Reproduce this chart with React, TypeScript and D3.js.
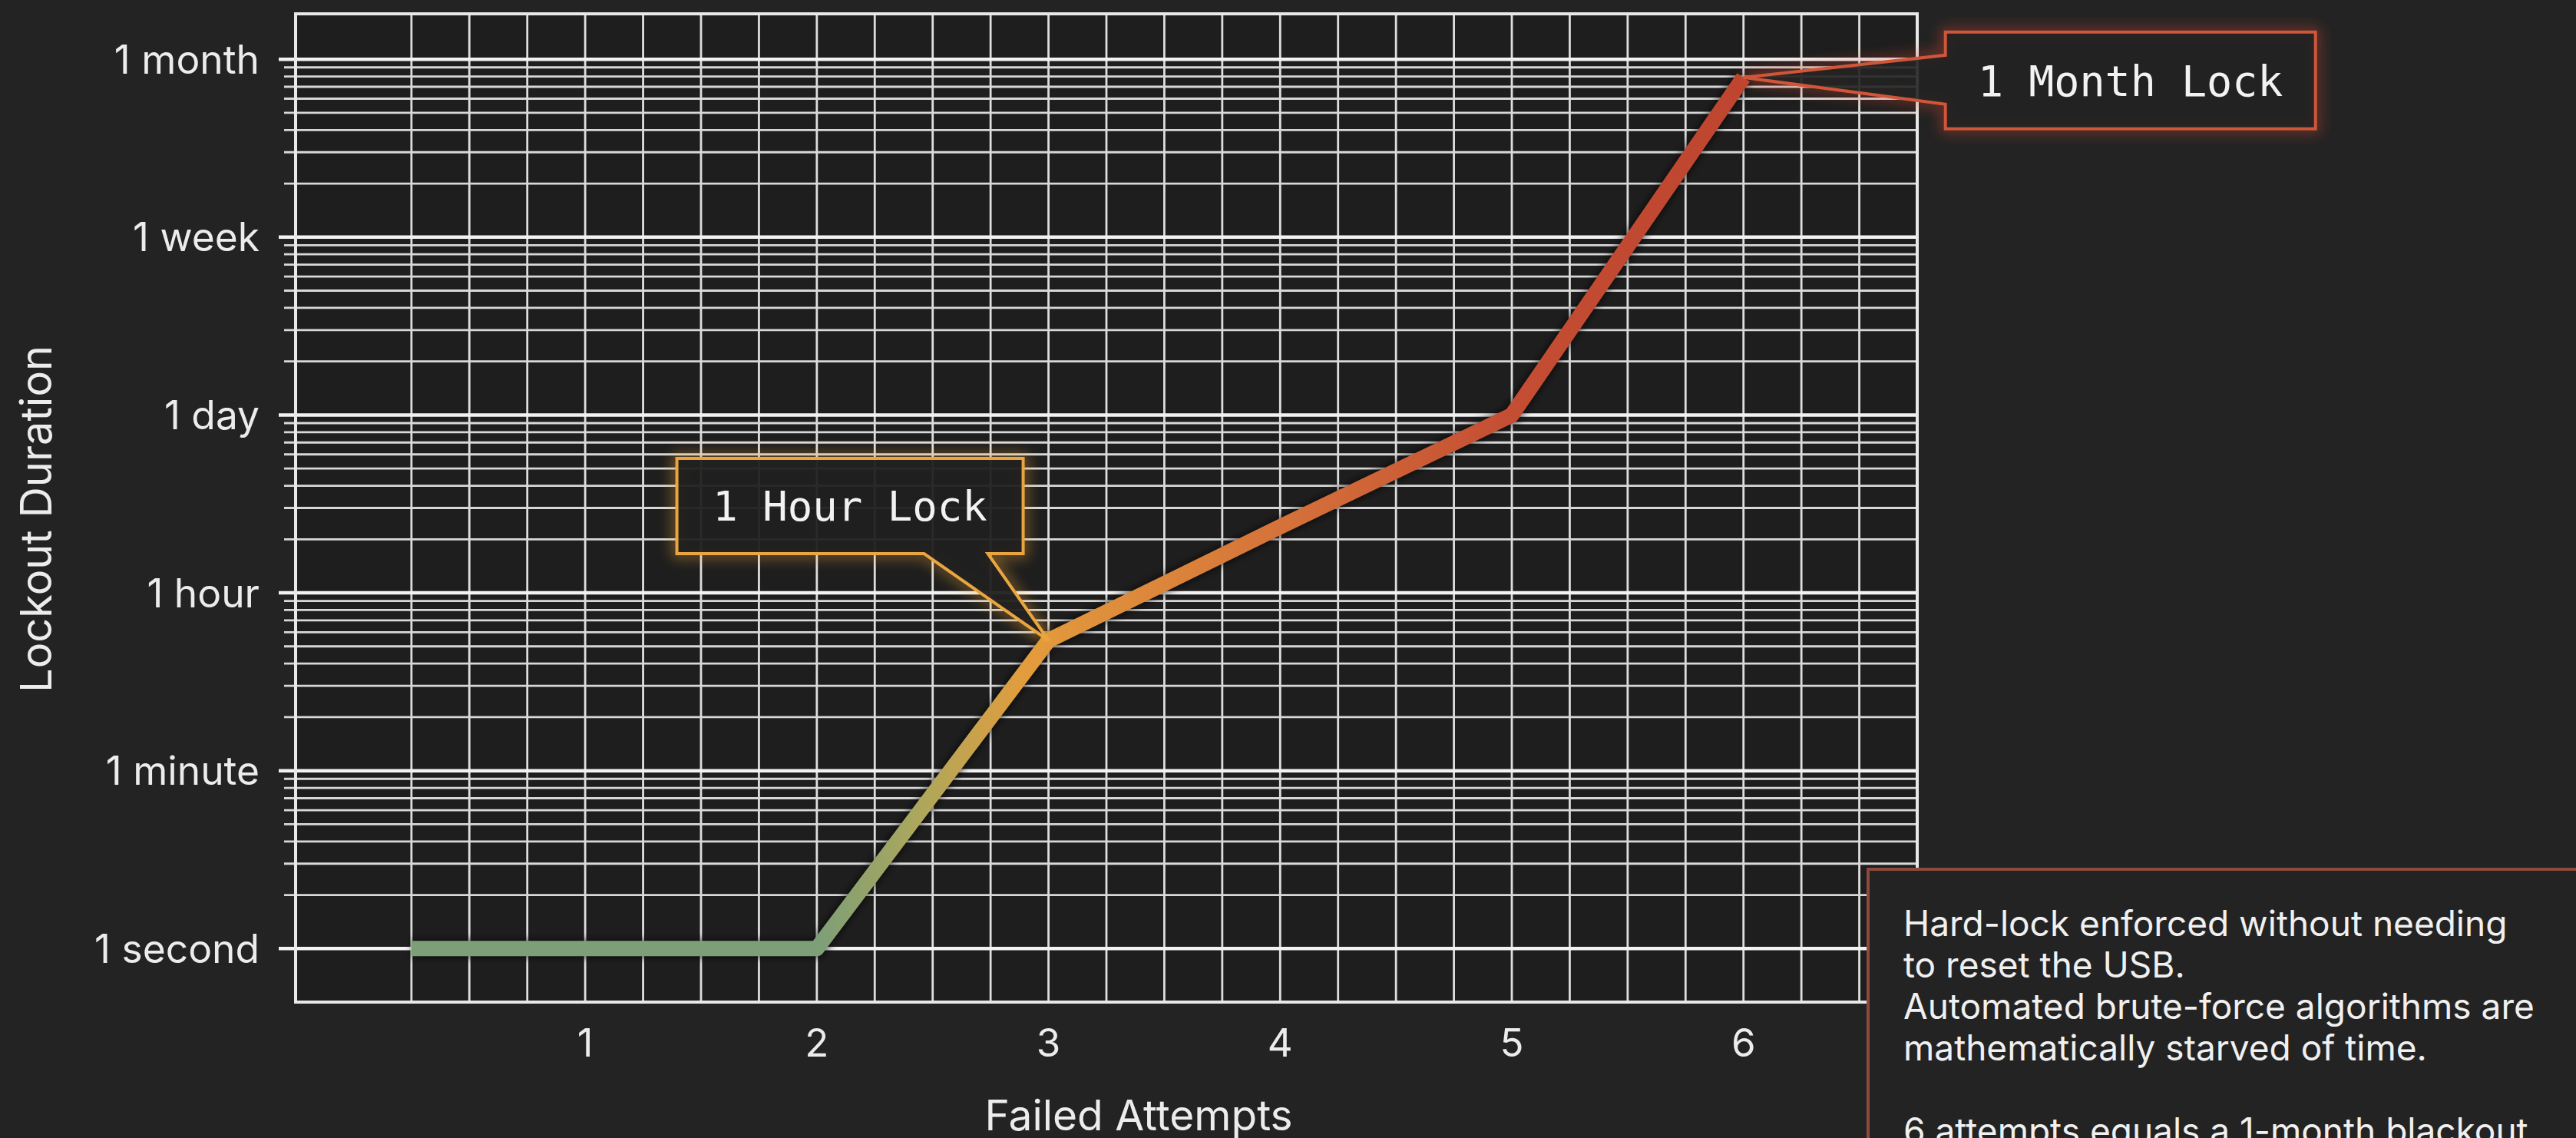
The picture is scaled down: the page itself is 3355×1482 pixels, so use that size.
import React from 'react';
import * as d3 from 'd3';

// ---- data ----
const attempts = [0.25, 1, 2, 3, 4, 5, 6];
const lockLevel = [1, 1, 1, 54, 235, 1000, 79000];
const yTickValues = [1, 10, 100, 1000, 10000, 100000];
const yTickLabels = ['1 second', '1 minute', '1 hour', '1 day', '1 week', '1 month'];
const xTickValues = [1, 2, 3, 4, 5, 6];
const xTickLabels = ['1', '2', '3', '4', '5', '6'];
const gradientStops = [
  { at: 2, color: '#7c9f77' },
  { at: 2.45, color: '#aea75c' },
  { at: 2.9, color: '#e39c3c' },
  { at: 4, color: '#d5723a' },
  { at: 5, color: '#c44d33' },
  { at: 6, color: '#be452f' },
];
const noteLines = [
  'Hard-lock enforced without needing',
  'to reset the USB.',
  'Automated brute-force algorithms are',
  'mathematically starved of time.',
  '',
  '6 attempts equals a 1-month blackout.',
];

const W = 3355;
const H = 1482;
const BG = '#232323';
const SANS = 'Inter, "Liberation Sans", sans-serif';
const MONO = '"DejaVu Sans Mono", "Liberation Mono", monospace';

export default function App() {
  const left = 385, right = 2497, top = 18, bottom = 1305;
  const x = d3.scaleLinear().domain([-0.25, 6.75]).range([left, right]);
  const y = d3.scaleLog().domain([0.5, 180000]).range([bottom, top]);

  const vGrid = d3.range(0.25, 6.5 + 1e-6, 0.25);
  const minor: number[] = [];
  for (let i = 0; i < 5; i++) for (let k = 2; k <= 9; k++) minor.push(k * Math.pow(10, i));

  const pts: [number, number][] = attempts.map((a, i) => [x(a), y(lockLevel[i])]);
  const line = d3.line().curve(d3.curveLinear)(pts) || '';

  const gx1 = x(gradientStops[0].at);
  const gx2 = x(gradientStops[gradientStops.length - 1].at);

  // hour callout (anchored on attempt 3)
  const hTip = pts[3];
  const hb = { l: hTip[0] - 484, r: hTip[0] - 33, t: hTip[1] - 237, b: hTip[1] - 113 };
  const hPath = `M${hb.l},${hb.t}H${hb.r}V${hb.b}H${hTip[0] - 79}L${hTip[0]},${hTip[1]}L${hTip[0] - 162},${hb.b}H${hb.l}Z`;

  // month callout (anchored on attempt 6)
  const mTip = pts[6];
  const mb = { l: mTip[0] + 263, r: mTip[0] + 745, t: mTip[1] - 59, b: mTip[1] + 67 };
  const mPath = `M${mb.l},${mb.t}H${mb.r}V${mb.b}H${mb.l}V${mTip[1] + 35}L${mTip[0]},${mTip[1]}L${mb.l},${mTip[1] - 29}Z`;

  const box = { l: 2433, t: 1132 };

  return (
    <svg width={W} height={H} style={{ position: 'absolute', left: 0, top: 0, display: 'block' }}>
      <defs>
        <linearGradient id="lineGrad" gradientUnits="userSpaceOnUse" x1={gx1} y1={0} x2={gx2} y2={0}>
          {gradientStops.map((s, i) => (
            <stop key={i} offset={(x(s.at) - gx1) / (gx2 - gx1)} stopColor={s.color} />
          ))}
        </linearGradient>
        <filter id="glow" x="-30%" y="-60%" width="160%" height="220%">
          <feGaussianBlur stdDeviation="9" />
        </filter>
        <filter id="shadow" x="-5%" y="-5%" width="110%" height="110%">
          <feGaussianBlur stdDeviation="4" />
        </filter>
      </defs>
      <rect width={W} height={H} fill={BG} />
      <rect x={left} y={top} width={right - left} height={bottom - top} fill="#1e1e1e" />

      {/* vertical grid */}
      {vGrid.map((v, i) => (
        <line key={'v' + i} x1={x(v)} x2={x(v)} y1={top} y2={bottom} stroke="#dedede" strokeWidth={2.8} />
      ))}
      {/* minor horizontal grid */}
      {minor.map((v, i) => (
        <line key={'m' + i} x1={left - 15} x2={right} y1={y(v)} y2={y(v)} stroke="#d8d8d8" strokeWidth={2.8} />
      ))}
      {/* major horizontal grid */}
      {yTickValues.map((v, i) => (
        <line key={'M' + i} x1={left - 22} x2={right} y1={y(v)} y2={y(v)} stroke="#f2f2f2" strokeWidth={4.5} />
      ))}
      {/* frame */}
      <rect x={left} y={top} width={right - left} height={bottom - top} fill="none" stroke="#e8e8e8" strokeWidth={4} />

      {/* y labels */}
      {yTickValues.map((v, i) => (
        <text key={'yl' + i} x={338} y={y(v)} dy="0.36em" textAnchor="end" fill="#ececec"
          fontFamily={SANS} fontSize={51.5}>{yTickLabels[i]}</text>
      ))}
      {/* x labels */}
      {xTickValues.map((v, i) => (
        <text key={'xl' + i} x={x(v)} y={1358} dy="0.36em" textAnchor="middle" fill="#ececec"
          fontFamily={SANS} fontSize={51}>{xTickLabels[i]}</text>
      ))}
      <text x={1483} y={1452} dy="0.36em" textAnchor="middle" fill="#ececec" fontFamily={SANS} fontSize={55}>Failed Attempts</text>
      <text transform="translate(47,676) rotate(-90)" dy="0.36em" textAnchor="middle" fill="#ececec" fontFamily={SANS} fontSize={56}>Lockout Duration</text>

      {/* data line */}
      <path d={line} fill="none" stroke="#000" strokeOpacity={0.5} strokeWidth={26} filter="url(#shadow)" />
      <path d={line} fill="none" stroke="url(#lineGrad)" strokeWidth={20} strokeLinejoin="round" strokeLinecap="butt" />

      {/* hour callout */}
      <path d={hPath} fill="none" stroke="#f0a534" strokeWidth={10} opacity={0.55} filter="url(#glow)" />
      <path d={hPath} fill="#202020" fillOpacity={0.95} stroke="#eaa540" strokeWidth={4} strokeLinejoin="miter" />
      <text x={(hb.l + hb.r) / 2} y={(hb.t + hb.b) / 2} dy="0.36em" textAnchor="middle" fill="#f2f2f2"
        fontFamily={MONO} fontSize={54}>1 Hour Lock</text>

      {/* month callout */}
      <path d={mPath} fill="none" stroke="#d24a30" strokeWidth={10} opacity={0.55} filter="url(#glow)" />
      <path d={mPath} fill="#222" fillOpacity={0.9} stroke="#d0563a" strokeWidth={4} />
      <text x={(mb.l + mb.r) / 2} y={(mb.t + mb.b) / 2} dy="0.36em" textAnchor="middle" fill="#f2f2f2"
        fontFamily={MONO} fontSize={55}>1 Month Lock</text>

      {/* note box */}
      <rect x={box.l} y={box.t} width={W - box.l + 20} height={H - box.t + 20} fill={BG} stroke="#8e4a3c" strokeWidth={4} />
      {noteLines.map((t, i) => (
        <text key={'n' + i} x={2479} y={1219 + i * 54} fill="#f0f0f0" fontFamily={SANS} fontSize={46}>{t}</text>
      ))}
    </svg>
  );
}
